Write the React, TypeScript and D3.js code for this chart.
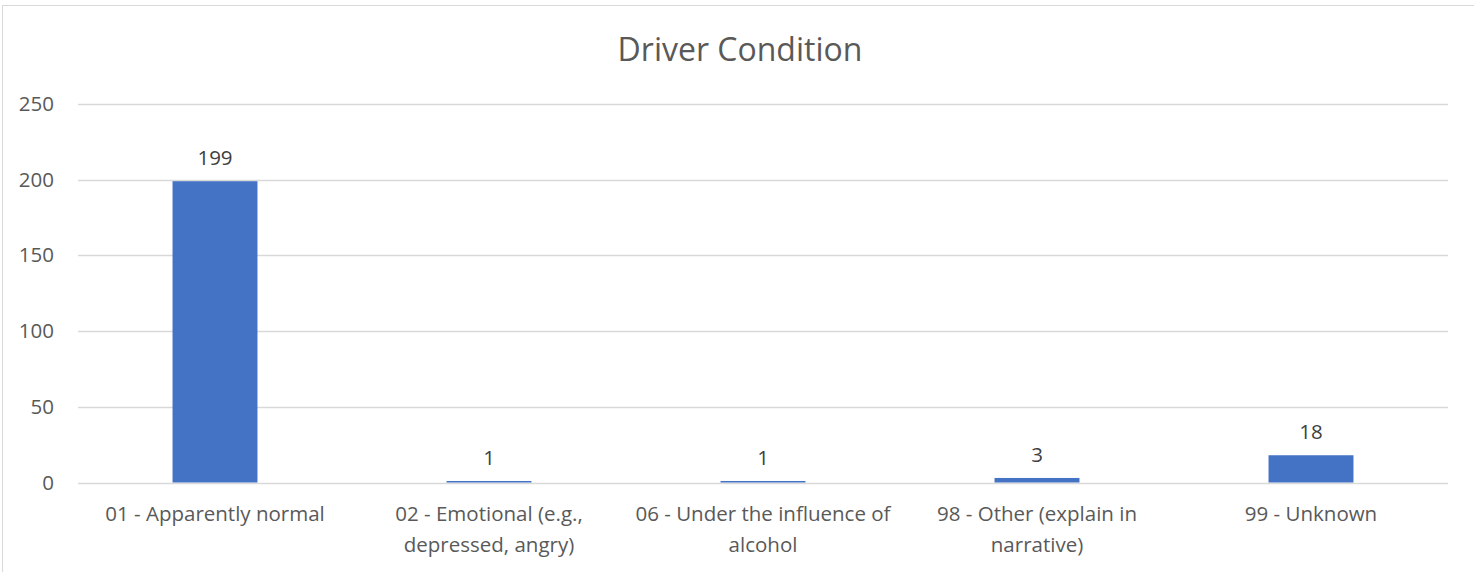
import React, { useEffect, useRef } from "react";
import * as d3 from "d3";

const categories = [
  "01 - Apparently normal",
  "02 - Emotional (e.g., depressed, angry)",
  "06 - Under the influence of alcohol",
  "98 - Other (explain in narrative)",
  "99 - Unknown",
];
// how the axis labels wrap in the original
const labelLines = [
  ["01 - Apparently normal"],
  ["02 - Emotional (e.g.,", "depressed, angry)"],
  ["06 - Under the influence of", "alcohol"],
  ["98 - Other (explain in", "narrative)"],
  ["99 - Unknown"],
];
const values = [199, 1, 1, 3, 18];
const yTicks = [0, 50, 100, 150, 200, 250];
const title = "Driver Condition";

const W = 1474;
const H = 572;
const FONT = "'Open Sans', 'Liberation Sans', sans-serif";

export default function App() {
  const ref = useRef<SVGSVGElement>(null);

  useEffect(() => {
    const svg = d3.select(ref.current);
    svg.selectAll("*").remove();

    const left = 78, right = 1448, top = 104, bottom = 482.5;

    // chart frame
    svg.append("rect")
      .attr("x", 2.5).attr("y", 5.5)
      .attr("width", W + 10).attr("height", H + 10)
      .attr("fill", "#fff").attr("stroke", "#d9d9d9")

    svg.append("text")
      .attr("x", 740).attr("y", 61)
      .attr("text-anchor", "middle")
      .attr("font-size", 32)
      .attr("fill", "#595959")
      .text(title)

    const x = d3.scaleBand().domain(categories).range([left, right])
      .paddingInner(0.69).paddingOuter(0.345)
    const y = d3.scaleLinear().domain([0, 250]).range([bottom, top])

    // gridlines
    svg.append("g").selectAll("line").data(yTicks).enter().append("line")
      .attr("x1", left).attr("x2", right)
      .attr("y1", d => Math.round(y(d)) + 0.5).attr("y2", d => Math.round(y(d)) + 0.5)
      .attr("stroke", "#d9d9d9").attr("stroke-width", 1.3)

    svg.append("g").selectAll("text").data(yTicks).enter().append("text")
      .attr("x", 54).attr("y", d => y(d) + 7)
      .attr("text-anchor", "end")
      .attr("font-size", 20.5)
      .attr("fill", "#595959")
      .text(d => d)

    // bars
    svg.append("g").selectAll("rect").data(values).enter().append("rect")
      .attr("x", (d, i) => x(categories[i])!)
      .attr("width", x.bandwidth())
      .attr("y", d => y(d))
      .attr("height", d => bottom - y(d))
      .attr("fill", "#4472c4")

    // value labels
    svg.append("g").selectAll("text").data(values).enter().append("text")
      .attr("x", (d, i) => x(categories[i])! + x.bandwidth() / 2)
      .attr("y", d => y(d) - 16)
      .attr("text-anchor", "middle")
      .attr("font-size", 20.5)
      .attr("fill", "#404040")
      .text(d => d)

    // category labels
    const lab = svg.append("g").selectAll("text").data(labelLines).enter().append("text")
      .attr("text-anchor", "middle")
      .attr("font-size", 20.5)
      .attr("fill", "#595959")
    lab.each(function (lines, i) {
      const cx = x(categories[i])! + x.bandwidth() / 2
      d3.select(this).selectAll("tspan").data(lines).enter().append("tspan")
        .attr("x", cx)
        .attr("y", (l, j) => 521 + j * 31)
        .text(l => l)
    })
  }, []);

  return (
    <svg ref={ref} width={W} height={H} fontFamily={FONT}
      style={{ position: "absolute", left: 0, top: 0, background: "#fff" }} />
  );
}
